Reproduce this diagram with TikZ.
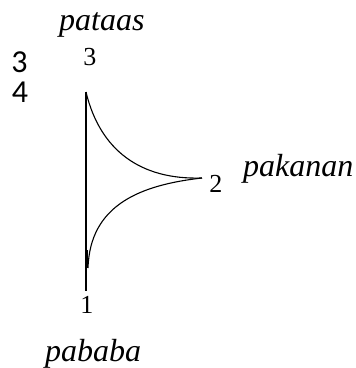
\documentclass[tikz,border=0pt]{standalone}
\usepackage{fontspec}
\setmainfont{Liberation Serif}
\newfontfamily\calfont{Carlito}
\begin{document}
\begin{tikzpicture}[x=1pt,y=-1pt,
  lbl/.style={inner sep=0pt,font=\fontsize{32}{36}\selectfont\itshape,anchor=base west},
  num/.style={inner sep=0pt,font=\fontsize{26}{30}\selectfont,anchor=base},
  bignum/.style={inner sep=0pt,font=\calfont\fontsize{32}{36}\selectfont,anchor=base},
  curve/.style={draw=black,line width=1.1pt}]
\useasboundingbox (0,0) rectangle (356,368);
\coordinate (top) at (86,92);
\coordinate (bot) at (86,291);
\coordinate (tip) at (202,178);
\draw[curve] (top) -- (bot);
\draw[curve] (top) .. controls (100,150) and (140,180) .. (tip);
\draw[curve] (tip) .. controls (140,185) and (90,205) .. (88,268);
\draw[line width=1.8pt] (87,250) -- (87,268);
\node[lbl] (up) at (59,30) {pataas};
\node[lbl] (down) at (45,361) {pababa};
\node[lbl] (right) at (243,176) {pakanan};
\node[num] (n3) at (90,65) {3};
\node[num] (n1) at (87,313) {1};
\node[num] (n2) at (216,192) {2};
\node[bignum] (b3) at (19.5,72) {3};
\node[bignum] (b4) at (20,102) {4};
\end{tikzpicture}
\end{document}
